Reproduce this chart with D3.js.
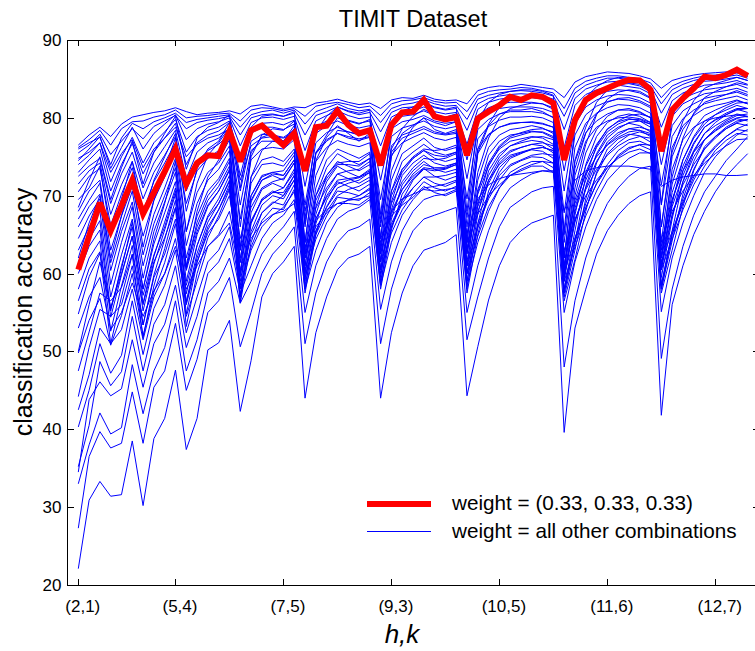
<!DOCTYPE html>
<html><head><meta charset="utf-8">
<script src="https://cdn.jsdelivr.net/npm/d3@7"></script>
<style>
body{margin:0;background:#fff}
svg{display:block}
text{font-family:"Liberation Sans",Arial,Helvetica,sans-serif;fill:#000}
</style>
</head><body>
<svg id="chart" width="755" height="651"></svg>
<script>
// ---- data ----
const titleText = "TIMIT Dataset";
const xAxisLabel = "h,k";
const yAxisLabel = "classification accuracy";
const xTickIndex = [0, 9, 19, 29, 39, 49, 59];
const xTickLabels = ["(2,1)", "(5,4)", "(7,5)", "(9,3)", "(10,5)", "(11,6)", "(12,7)"];
const yTicks = [20, 30, 40, 50, 60, 70, 80, 90];
const legendLabels = ["weight = (0.33, 0.33, 0.33)", "weight = all other combinations"];

// weight = (0.33, 0.33, 0.33)
const redSeries = [60.5,64.8,69.1,65.5,68.7,72.0,67.7,70.4,73.1,76.0,71.5,74.2,75.2,75.1,78.3,
 74.4,78.4,79.0,77.7,76.5,78.0,
 73.2,78.8,79.0,80.9,79.1,78.0,78.4,
 73.9,79.1,80.7,80.8,82.3,80.2,79.8,80.1,
 75.2,79.9,80.8,81.6,82.7,82.3,82.9,82.7,81.9,
 74.6,79.7,82.3,83.2,83.8,84.4,84.9,84.8,83.6,
 75.7,81.0,82.5,83.8,85.3,85.1,85.5,86.2,85.4];

// weight = all other combinations
const blueSeries = [
[76.5,77.8,78.8,77.6,79.2,80.1,80.4,80.7,80.9,81.3,80.8,80.4,80.6,80.7,80.9,80.5,81.5,81.7,81.4,81.1,81.4,81.3,81.9,82.1,82.4,82,81.7,81.9,81.2,82.3,82.6,82.5,82.9,82.4,82.2,82.3,81.8,83.5,83.9,84.1,84,84.3,84.1,83.9,83.7,82.6,84.6,85.3,85.6,85.9,85.8,85.7,85.4,85,83.8,84.8,85.2,85.5,85.7,85.8,85.9,86,85.7],
[76.2,77.2,78.4,76.5,78.6,79.5,79.6,80.1,80.4,81,80,80.2,80.3,80.5,80.6,79.6,81,81.3,81.2,80.9,81.2,80.2,81.5,81.8,82,81.7,81.3,81.5,80.3,81.8,82.2,82.3,82.6,82.1,81.9,82,80.8,82.9,83.4,83.6,83.7,83.9,83.8,83.5,83.2,81.2,83.8,84.7,85.1,85.4,85.4,85.2,85,84.5,82.6,84.1,84.7,85.1,85.4,85.5,85.6,85.8,85.4],
[76,76.8,77.5,74,77.4,79.3,78.6,79.5,80,80.6,79.4,79.8,80,80.2,80.4,78.8,80.4,80.8,81,80.6,81,79.2,80.8,81.3,81.8,81.2,80.9,81.1,79.4,81.2,81.7,81.9,82.3,81.8,81.5,81.6,79.8,82.4,82.9,83.2,83.4,83.5,83.4,83.2,82.8,80.2,83.2,84.2,84.7,85.1,85.1,84.9,84.7,84.1,81.8,83.6,84.3,84.8,85.1,85.2,85.3,85.5,85.1],
[75.5,76.5,77.9,75.3,77,78.6,77.3,78.9,79.6,80.3,78.6,79.4,79.7,79.9,80.2,77.8,80,80.4,80.5,80.2,80.6,77.8,80.3,80.8,81.4,80.8,80.4,80.7,78.2,80.7,81.3,81.4,81.9,81.3,81,81.2,78.4,81.8,82.5,82.8,83,83.1,83,82.8,82.4,78.5,82.5,83.7,84.2,84.6,84.7,84.5,84.3,83.7,80.6,83,83.8,84.3,84.7,84.8,85,85.2,84.8],
[74.5,76,77.6,73.5,76.2,78.8,76,78,79.2,80.4,77.2,78.6,79.2,79.5,80,76.4,79.4,80,80.1,79.8,80.2,75.8,79.6,80.3,80.9,80.3,79.9,80.1,76.4,80.1,80.8,80.9,81.4,80.8,80.5,80.7,76.6,81.1,82,82.4,82.6,82.6,82.6,82.4,81.9,76.2,81.6,83,83.6,84,84.2,84,83.8,83.1,78.8,82.2,83.2,83.7,84.2,84.3,84.5,84.8,84.3],
[74,75.2,76.8,71.8,75,77.5,74.2,76.8,78.2,79.8,75.6,77.6,78.4,78.8,79.6,74.6,78.6,79.3,79.4,79.1,79.7,73.6,78.8,79.6,80.3,79.7,79.3,79.6,74.4,79.4,80.2,80.4,80.9,80.3,80,80.2,74.6,80.3,81.3,81.8,82,82,82,81.8,81.3,73.2,80.4,82.2,82.9,83.4,83.6,83.5,83.2,82.5,76.5,81.2,82.5,83.1,83.6,83.8,84,84.3,83.8],
[73,74.6,76,70.6,74,76.7,72.8,75.6,77.4,79.3,74,76.8,77.8,78.3,79.4,72.6,78,78.8,78.8,78.5,79.2,71.2,78,79,79.6,79,78.7,79,72,78.6,79.5,79.8,80.3,79.6,79.3,79.5,72.2,79.5,80.6,81.2,81.4,81.4,81.4,81.2,80.7,70.6,79.2,81.4,82.3,82.8,83,82.9,82.6,81.9,74,80.2,81.8,82.5,83.1,83.3,83.5,83.8,83.3],
[72.5,73.8,74.8,69,72.8,75.6,71,74.2,76.3,78.4,72.2,75.6,76.8,77.4,78.7,70.6,77,77.9,77.8,77.5,78.4,68.8,76.8,78.1,78.8,78.2,77.9,78.2,69.5,77.6,78.7,79.1,79.6,78.9,78.6,78.9,69.6,78.5,79.8,80.5,80.8,80.8,80.8,80.6,80.1,67.8,77.8,80.4,81.5,82.1,82.4,82.3,82,81.3,71.4,79,80.9,81.8,82.5,82.8,83,83.3,82.8],
[71.5,73.2,74.2,67.6,71.4,74.4,69.6,73,75.2,77.6,70.6,74.4,75.8,76.6,78,68.8,75.8,77,77,76.8,77.8,66.4,75.6,77.2,78,77.4,77.1,77.5,67,76.4,77.8,78.3,78.9,78.2,77.9,78.2,67.2,77.3,78.9,79.7,80.1,80.1,80.2,80,79.4,65,76.2,79.3,80.6,81.3,81.7,81.6,81.3,80.6,68.8,77.6,79.9,81,81.8,82.2,82.5,82.8,82.3],
[70.5,72.5,73.5,66.2,70.2,73.6,68,71.8,74.2,76.8,69,73.2,74.8,75.8,77.4,67,74.6,76,76.2,76,77.2,64,74.4,76.2,77.1,76.6,76.3,76.8,64.6,75.2,76.8,77.5,78.1,77.4,77.1,77.5,64.8,76,77.9,78.8,79.3,79.4,79.5,79.3,78.8,62,74.4,78.1,79.6,80.5,81,81,80.7,80,66,76.2,79,80.3,81.2,81.6,81.9,82.3,81.8],
[74.8,75.6,76.8,73,75.4,77.2,73.6,76,77.4,78.8,75,76.6,77.4,77.8,78.6,72,76.4,77.4,77.6,77.4,78,68,75.4,77,78,77.6,77.3,77.6,66,75.6,77.4,78,78.6,78,77.8,78,64,75.4,77.8,78.8,79.2,79.4,79.4,79.2,78.8,60,72.6,77,78.8,79.6,80,80.1,79.9,79.4,62,73.4,77.2,78.8,79.6,80,80.2,80.4,80.1],
[68.5,72,75,69.5,73.6,77,71.5,75.6,78,80.2,73.4,77.4,78.8,79.4,80.4,71,78.8,80.2,80.4,80.2,80.8,67,78.2,80.2,81.4,80.9,80.6,81,67.6,78.8,80.9,81.4,82,81.4,81.1,81.4,68,79.6,82,83,83.4,83.6,83.6,83.4,82.9,65.5,79,82.6,84,84.8,85.2,85.1,84.8,84.1,69,80.2,83,84.2,85,85.3,85.5,85.8,85.3],
[62,66.5,70,62,67.4,72.4,63.4,69.4,73.4,77.4,65.4,71.6,75.2,76.8,78.8,63.4,75,77.8,78.6,78.4,79.6,66,75.4,77.8,80,79.6,79.2,79.8,66.5,76,78.6,80.2,81.1,80.4,80.1,80.5,66,76,79.2,81.4,82.3,82.6,82.8,82.6,82,64,74.6,78.8,82,83.6,84.3,84.4,84.1,83.4,66,75.6,79.6,82.2,83.8,84.4,84.8,85.2,84.8],
[50,56,61.5,55.5,60.6,66.6,58,64.4,69,74.4,61,68,72.4,74.6,77.2,60,72.4,75.8,77,77,78.6,63,72.6,75.8,78.4,78.2,77.8,78.6,63.5,73.2,76.6,78.8,80,79.4,79,79.5,63,73,77.4,80,81.2,81.6,81.9,81.8,81.1,61,71,76.6,80.4,82.4,83.3,83.6,83.4,82.6,63,72.4,77.4,80.6,82.6,83.4,84,84.5,84.2],
[69.5,71,73.8,65,69.6,74.4,67,72,75,78,68,73.5,76,77,79.4,66,75.5,77.5,78,77,79,64,74.5,77.5,79,78,77,78,64.5,75,78,79,80,78.5,78,78.5,64,75.5,79,80.5,81,81,81.2,80.8,80,62,73.5,78,80.5,82,82.5,82.6,82.2,81.5,64,75,78.5,80.5,82,82.5,83,83.5,83],
[68,70.6,72,63,67.4,71.2,64.8,69.4,72.4,75.8,65.4,70.4,73,74.2,76.4,63,72.4,74.6,75,74.4,76,62.5,71,74.6,76,75.4,74.8,75.6,63,72,75.4,76.4,77.4,76.2,75.8,76.2,62.5,72,76.2,77.8,78.5,78.7,79,78.7,78,60.5,70,75.5,78.5,80.2,81,81.2,80.8,80,62,71.5,76,78.6,80.3,81,81.6,82.2,81.8],
[67,69.4,71.6,61.4,66.2,70.6,62.4,67.6,71,74.8,63.6,69,72,73.4,75.8,61.4,71.6,74,74.2,73.8,75.6,61,70,73.6,75.4,74.6,74,74.8,61.5,70.6,74.4,75.6,76.6,75.6,75.2,75.6,61,70.4,75.2,77,77.8,78,78.3,78.1,77.4,59,67.5,74,77.6,79.4,80.2,80.5,80.2,79.4,60.5,69,74.6,77.6,79.6,80.4,81,81.6,81.2],
[66,68.6,70.2,60.4,65.4,69.2,61,66.4,70,73.6,62,67.4,70.6,72.2,74.8,59.6,70,72.6,73,72.6,74.6,60,68.6,72.6,74.4,73.8,73.2,74,60.5,69.2,73.4,74.8,75.8,74.8,74.4,74.8,60,68.8,74,76,77,77.3,77.6,77.4,76.6,58,65.5,72.5,76.4,78.6,79.5,79.9,79.6,78.8,59.5,67,73.2,76.6,78.8,79.7,80.4,81.1,80.7],
[64.5,67.4,69.6,58.6,64,68.6,59.4,65.4,69.2,73,60.6,66.6,70,71.8,74.4,58,69.2,72,72.6,72,74.2,59,67.6,71.8,73.8,73,72.4,73.2,59.5,68.2,72.6,74.2,75.2,74.2,73.8,74.2,59,67.6,73.2,75.4,76.4,76.8,77.1,76.9,76,57.5,64,71.2,75.4,77.8,78.8,79.3,79,78.2,58.5,65.5,71.8,75.6,78,79,79.8,80.5,80.2],
[63,66,68,57,62.4,67,58,63.8,67.8,71.8,59,65,68.6,70.6,73.4,57,67.8,70.8,71.6,71,73.4,58,66.4,70.6,72.8,72.2,71.6,72.4,58.5,67,71.4,73.2,74.4,73.4,73,73.4,58,66.4,72,74.6,75.8,76.2,76.6,76.4,75.5,57,63,69.6,74.2,76.9,78.1,78.6,78.4,77.6,58,64.2,70.2,74.4,77.2,78.3,79.2,79.9,79.6],
[61.5,64.4,66.8,55.2,61,66,56.2,62.2,66.6,71,57.4,63.6,67.4,69.6,72.6,56.4,66.4,69.6,70.6,70,72.6,57.5,65,69.4,71.8,71.2,70.6,71.5,58,65.6,70.2,72.2,73.5,72.5,72,72.5,57.5,65,70.6,73.6,75,75.5,75.9,75.7,74.8,56.5,61.8,68,73,76,77.3,77.9,77.7,76.9,57.5,63,68.6,73.2,76.3,77.6,78.6,79.3,79],
[60,63.5,65.6,54.4,59.8,64.8,55.2,61.2,65.6,70.2,56.4,62.6,66.6,69,72,57,65.4,68.8,70,69.6,72,60.5,65.5,68.5,70.6,70.4,70,71,61.5,66.4,69.4,71,72.4,71.6,71.2,71.8,61,66,69.6,72,73.8,74.5,75,74.9,74.2,60,64.6,68.4,71.6,74,75.8,76.8,77,76.4,61.5,65.4,69.2,72.4,74.8,76.4,77.6,78.5,78.3],
[58,62,64.2,52.6,58.4,63.6,53.4,59.8,64.4,69.4,54.8,61.4,65.6,68.2,71.4,56.2,64,67.8,69.2,68.8,71.4,59.5,64.4,67.4,69.8,69.6,69.4,70.4,60.5,65.2,68.2,70.2,71.8,71,70.6,71.2,60,64.8,68.6,71,73,73.8,74.4,74.4,73.6,59,63.4,67.4,70.6,73.2,75.2,76.2,76.5,75.9,60.5,64.4,68.2,71.4,73.8,75.8,77.1,78,77.8],
[56.5,60.6,62.8,51,57,62.4,51.8,58.4,63.2,68.4,53.2,60,64.6,67.4,70.8,58.5,63.4,66.8,68.4,68.2,70.8,63.5,66,67.8,69,69,68.8,69.8,64.5,67.4,68.8,69.8,71.2,70.4,70,70.6,64,67.6,70,71.4,72.6,73.2,73.8,73.8,73,63,67,70,72,73.6,74.8,75.6,76,75.4,64.5,68,70.6,72.6,74.2,75.4,76.4,77.2,77.3],
[53,57,59.5,52.8,55,58.8,54.5,57.8,60,63.5,58,61,63.5,64.8,66.5,60,64.5,66.5,67.6,68,69,62.5,66.8,68.2,69,69.4,69.6,70,64,68,69.6,70.2,70.8,70.6,70.8,71,65.2,69.6,71.4,72.2,72.6,72.8,73,73.2,73.2,68,72,73.2,73.6,73.8,73.8,73.8,73.6,73.4,71.2,72,72.4,72.6,72.8,72.8,72.6,72.6,72.7],
[22.1,30.9,33.3,31.4,31.6,38.5,30.2,38.8,41.4,47.6,37.4,41.4,50.2,51.1,54,42.3,48.8,57,60,61.5,63.5,44,52.4,57,60.5,62,62.5,63.5,44,52.4,57.5,61,63,63.5,64,65,44.3,50.6,56.6,61,64,65.5,66.5,67,67.5,39.6,53,58,62.5,65.5,67.5,69,70,70.5,41.8,56,61,65,68,70.5,72.5,74,75.4],
[27.3,36.5,39.7,37.6,38.2,44.8,38.2,45.4,47.5,53.6,45,49,55,56.5,59.5,50.6,55,60,62.5,64,66,51,57.5,61.5,64,65.5,66,67,51,58,62.5,65.5,67,67.5,68,68.5,51.5,57,62,66,68.5,69.5,70.5,71,71.2,48,56.5,62,66,69,71,72.5,73.5,73.8,49.1,58,63.5,67.5,70.5,72.5,74.5,76,77.6],
[33,38,42.1,39.4,40.2,48.3,42,47.5,50.5,56.5,47.5,51.5,57.5,59,62,56.2,59,62.5,64.5,66,68,55,61,64.5,67,68,68.5,69.5,55.4,61.5,65.5,68,69.5,70,70.2,70.8,55,61,65.5,69,71,72,72.8,73.2,73,55,61.5,66,69.5,72,73.5,74.8,75.5,75.5,55.1,62,66.5,70,73,75,76.5,77.8,78.5],
[34.5,43.8,46.1,44.3,45.2,51.5,45.4,51,53.5,58.5,50.5,54.5,60,61.5,64.5,57.5,61,64.5,66.5,67.5,69.5,58,63,66.5,68.5,69.5,70,70.8,58.5,64,67.5,69.5,71,71.2,71.5,72,58.5,64,68,71,72.6,73.4,74,74.4,74.2,57.5,64,68.5,71.5,73.6,75,76,76.6,76.5,58,65,69,72,74.6,76.2,77.6,78.6,79.2],
[35.2,40.5,48.7,45.6,47.4,54.5,47.5,53.5,56,61,52.4,57,61.5,63,66,58,63,66,67.5,68.5,70.5,59.5,65,68,70,70.8,71.2,72,60,66,69,71,72.4,72.4,72.6,73,60,66.4,70,72.6,74,74.6,75.2,75.4,75.2,60,66.8,70.8,73.4,75.2,76.4,77.2,77.6,77.4,61,67.6,71.4,74,76,77.4,78.6,79.4,79.8],
[40.3,45,51,47.2,49.5,56.5,49.6,55.5,58.5,63,54.5,59,63.5,65,68,60.5,65,67.8,69,70,72,62,67,69.8,71.5,72,72.3,73,62.5,68,70.8,72.5,73.6,73.4,73.5,74,62.8,68.6,72,74,75.2,75.6,76,76.2,75.8,62.5,69,72.8,75,76.5,77.5,78.2,78.4,78,63.5,69.5,73.2,75.6,77.2,78.4,79.4,80,80.2],
[42.5,47,53,51,52.8,58,51.5,57,60,64.5,56,61.5,65.2,67,70,61.5,66.8,69.4,70.4,71,73,58.5,65.4,68.6,71,71.6,72,73,59,66,69.4,72,73.4,73.2,73.4,74,59,65.8,70,73,74.8,75.4,76,76.2,75.8,58,64.4,69,72.8,75.4,76.8,77.8,78.2,77.8,58.5,65,69.6,73.4,76,77.6,78.8,79.6,79.8],
[44.2,50.5,55.4,54.5,56,61,53.4,59.5,62.5,67,58.5,63.6,67.2,69,71.8,63,68.5,71,71.8,72.2,74.2,62,68.4,71,72.8,73.2,73.4,74.4,62.6,69,71.8,73.6,74.8,74.6,74.8,75.4,62.6,69.2,72.6,75,76.4,77,77.5,77.6,77.2,61,68,72,75.2,77.4,78.6,79.4,79.6,79.2,62,68.6,72.6,75.8,78,79.4,80.4,81,81.2],
[47.5,52.5,57.5,56.5,58.2,62.5,56,61.5,64.6,68.5,60.4,65.4,68.8,70.6,73.2,64.5,70,72.4,73,73.2,75.2,62.5,70,72.6,74.2,74.4,74.4,75.4,63,70.6,73.4,75,76,75.8,76,76.5,63,70.8,74.2,76.4,77.6,78.1,78.5,78.6,78.2,60.5,69.4,73.8,76.6,78.5,79.6,80.3,80.5,80.1,62,70.4,74.6,77.4,79.2,80.4,81.3,81.9,82],
[49.8,54,56.8,50.8,54.6,60,52,57.6,61.4,66.4,56.2,62,66,68.2,71,59,66.6,69.4,70.4,70.4,72.6,60,67,70,72,72.2,72.4,73.4,60.5,67.6,70.8,72.8,74,73.6,73.6,74.2,61,68,71.6,74.2,75.6,76.2,76.6,76.8,76.4,59.5,66.6,71,74.4,76.6,77.8,78.6,78.8,78.4,60.5,67.4,71.8,75,77.2,78.6,79.6,80.3,80.5],
[54.8,59.6,62.6,55.6,60,64.8,57.2,62.4,66,70.6,60.8,66,69.4,71.2,73.8,62,69.4,72,72.8,72.6,74.6,61,69.4,72.2,74,74,73.8,74.8,61.6,70,73,74.8,75.8,75.2,75,75.6,61.5,70.2,73.8,76.2,77.4,77.8,78.2,78.2,77.6,59.6,68.4,73,76.2,78.2,79.2,79.8,79.8,79.2,61,69.4,73.8,76.8,78.8,79.8,80.6,81.2,81.2]
];

// ---- layout ----
(function draw() {
  const svg = d3.select("#chart");
  const W = 755, H = 651;
  const pL = 67.5, pR = 758.5, pT = 40, pB = 585;
  const x = d3.scaleLinear().domain([-1, redSeries.length]).range([pL, pR]);
  const y = d3.scaleLinear().domain([20, 90]).range([pB, pT]);

  svg.append("rect").attr("width", W).attr("height", H).attr("fill", "#fff");

  const line = d3.line().x((d, i) => x(i)).y(d => y(d));

  const plot = svg.append("g");
  plot.selectAll("path.blue").data(blueSeries).join("path")
    .attr("class", "blue")
    .attr("d", line)
    .attr("fill", "none")
    .attr("stroke", "#0000ff")
    .attr("stroke-width", 1);

  plot.append("path").datum(redSeries)
    .attr("d", line)
    .attr("fill", "none")
    .attr("stroke", "#ff0000")
    .attr("stroke-width", 6)
    .attr("stroke-linejoin", "miter")
    .attr("stroke-miterlimit", 3);

  const fontTick = "17px";
  const bottomAxis = d3.axisBottom(x).tickValues(xTickIndex)
    .tickFormat((d, i) => xTickLabels[i]).tickSizeInner(-6).tickSizeOuter(0).tickPadding(15);
  const gB = svg.append("g").attr("transform", `translate(0,${pB})`).call(bottomAxis);
  gB.selectAll("text").attr("font-size", fontTick).attr("dx", 4).attr("fill", "#000");

  const topAxis = d3.axisTop(x).tickValues(xTickIndex).tickFormat("").tickSizeInner(-6).tickSizeOuter(0);
  svg.append("g").attr("transform", `translate(0,${pT})`).call(topAxis);

  const leftAxis = d3.axisLeft(y).tickValues(yTicks).tickSizeInner(-6).tickSizeOuter(0).tickPadding(6);
  const gL = svg.append("g").attr("transform", `translate(${pL},0)`).call(leftAxis);
  gL.selectAll("text").attr("font-size", fontTick).attr("fill", "#000");

  const rightAxis = d3.axisRight(y).tickValues(yTicks).tickFormat("").tickSizeInner(-6).tickSizeOuter(0);
  svg.append("g").attr("transform", `translate(${pR},0)`).call(rightAxis);

  svg.selectAll(".domain").remove();
  svg.selectAll(".tick line").attr("stroke", "#000").attr("shape-rendering", "crispEdges");
  svg.selectAll(".tick text").attr("font-family", '"Liberation Sans",Arial,sans-serif');

  svg.append("rect").attr("x", pL).attr("y", pT)
    .attr("width", pR - pL).attr("height", pB - pT)
    .attr("fill", "none").attr("stroke", "#000").attr("stroke-width", 1)
    .attr("shape-rendering", "crispEdges");

  svg.append("text").attr("x", (pL + pR) / 2).attr("y", 27)
    .attr("text-anchor", "middle").attr("font-size", "23.5px").text(titleText);

  svg.append("text").attr("x", 402).attr("y", 643)
    .attr("text-anchor", "middle").attr("font-size", "26px").attr("font-style", "italic")
    .text(xAxisLabel);

  svg.append("text").attr("transform", "translate(32,312) rotate(-90)")
    .attr("text-anchor", "middle").attr("font-size", "25px").text(yAxisLabel);

  const legend = svg.append("g");
  legend.append("line").attr("x1", 367).attr("x2", 431).attr("y1", 504).attr("y2", 504)
    .attr("stroke", "#ff0000").attr("stroke-width", 6);
  legend.append("line").attr("x1", 367).attr("x2", 431).attr("y1", 531.5).attr("y2", 531.5)
    .attr("stroke", "#0000ff").attr("stroke-width", 1);
  legend.append("text").attr("x", 452).attr("y", 510).attr("font-size", "20.7px").text(legendLabels[0]);
  legend.append("text").attr("x", 452).attr("y", 537.5).attr("font-size", "20.7px").text(legendLabels[1]);
})();
</script>
</body></html>
